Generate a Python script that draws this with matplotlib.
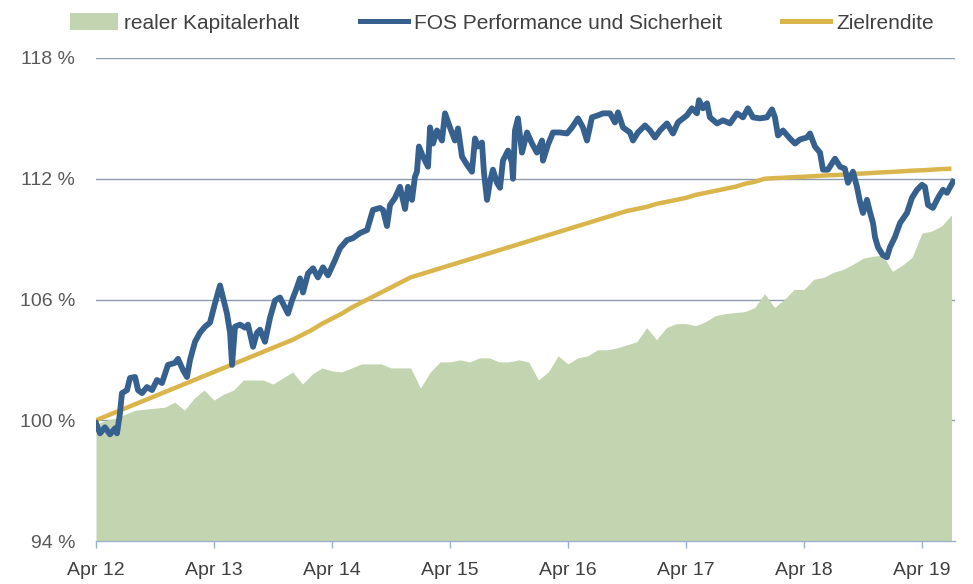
import numpy as np
import matplotlib
matplotlib.use("Agg")
import matplotlib.pyplot as plt
from matplotlib.lines import Line2D
from matplotlib.patches import Patch

# ---------------- data ----------------
start_year = 2012.25  # April 2012
# realer Kapitalerhalt (monthly, Apr 2012 .. Jul 2019)
kapitalerhalt = [
    99.8, 100.0, 100.1, 100.3, 100.5, 100.55, 100.6, 100.65, 100.9, 100.5,
    101.1, 101.5, 101.0, 101.3, 101.5, 102.0, 102.0, 102.0, 101.8, 102.1,
    102.4, 101.8, 102.3, 102.6, 102.45, 102.4, 102.6, 102.8, 102.8, 102.8,
    102.6, 102.6, 102.6, 101.6, 102.4, 102.9, 102.9, 103.0, 102.9, 103.1,
    103.1, 102.9, 102.9, 103.0, 102.9, 102.0, 102.4, 103.2, 102.8, 103.1,
    103.2, 103.5, 103.5, 103.6, 103.75, 103.9, 104.6, 104.0, 104.6, 104.8,
    104.8, 104.7, 104.9, 105.2, 105.3, 105.35, 105.4, 105.6, 106.3, 105.6,
    106.0, 106.5, 106.5, 107.0, 107.1, 107.35, 107.5, 107.75, 108.05, 108.15,
    108.2, 107.4, 107.7, 108.1, 109.3, 109.4, 109.65, 110.2,
]
# Zielrendite (monthly)
zielrendite = [
    100.0, 100.2, 100.4, 100.6, 100.8, 101.0, 101.2, 101.4, 101.6, 101.8,
    102.0, 102.2, 102.4, 102.6, 102.8, 103.0, 103.2, 103.4, 103.6, 103.8,
    104.0, 104.25, 104.5, 104.8, 105.05, 105.3, 105.6, 105.85, 106.1, 106.35,
    106.6, 106.85, 107.1, 107.25, 107.4, 107.55, 107.7, 107.85, 108.0, 108.15,
    108.3, 108.45, 108.6, 108.75, 108.9, 109.05, 109.2, 109.35, 109.5, 109.65,
    109.8, 109.95, 110.1, 110.25, 110.4, 110.5, 110.6, 110.75, 110.85, 110.95,
    111.05, 111.2, 111.3, 111.4, 111.5, 111.6, 111.75, 111.85, 112.0, 112.03,
    112.05, 112.08, 112.1, 112.13, 112.16, 112.18, 112.2, 112.24, 112.26, 112.29,
    112.32, 112.34, 112.37, 112.4, 112.42, 112.45, 112.48, 112.5,
]
# FOS Performance und Sicherheit (decimal year, value in %)
fos_x = [
    2012.250, 2012.284, 2012.326, 2012.369, 2012.411, 2012.428, 2012.453, 2012.470,
    2012.513, 2012.538, 2012.581, 2012.606, 2012.640, 2012.682, 2012.725, 2012.767,
    2012.809, 2012.860, 2012.919, 2012.945, 2012.987, 2013.021, 2013.047, 2013.089,
    2013.131, 2013.174, 2013.216, 2013.258, 2013.301, 2013.326, 2013.360, 2013.386,
    2013.403, 2013.428, 2013.470, 2013.513, 2013.538, 2013.581, 2013.614, 2013.640,
    2013.682, 2013.725, 2013.767, 2013.809, 2013.835, 2013.877, 2013.911, 2013.953,
    2013.979, 2014.004, 2014.047, 2014.089, 2014.131, 2014.174, 2014.216, 2014.275,
    2014.318, 2014.377, 2014.428, 2014.487, 2014.547, 2014.597, 2014.657, 2014.682,
    2014.716, 2014.742, 2014.784, 2014.826, 2014.869, 2014.894, 2014.928, 2014.953,
    2014.970, 2014.987, 2015.021, 2015.064, 2015.081, 2015.106, 2015.140, 2015.182,
    2015.208, 2015.250, 2015.292, 2015.318, 2015.352, 2015.394, 2015.436, 2015.462,
    2015.487, 2015.521, 2015.538, 2015.564, 2015.589, 2015.614, 2015.648, 2015.674,
    2015.699, 2015.742, 2015.775, 2015.784, 2015.801, 2015.826, 2015.860, 2015.903,
    2015.945, 2015.987, 2016.030, 2016.038, 2016.081, 2016.123, 2016.182, 2016.242,
    2016.284, 2016.335, 2016.377, 2016.411, 2016.453, 2016.504, 2016.547, 2016.606,
    2016.648, 2016.674, 2016.716, 2016.775, 2016.801, 2016.843, 2016.903, 2016.945,
    2016.987, 2017.030, 2017.089, 2017.140, 2017.182, 2017.258, 2017.301, 2017.343,
    2017.360, 2017.394, 2017.428, 2017.453, 2017.513, 2017.564, 2017.623, 2017.682,
    2017.733, 2017.775, 2017.818, 2017.877, 2017.936, 2017.979, 2018.004, 2018.030,
    2018.072, 2018.131, 2018.174, 2018.216, 2018.275, 2018.301, 2018.343, 2018.386,
    2018.411, 2018.453, 2018.513, 2018.555, 2018.597, 2018.623, 2018.665, 2018.699,
    2018.725, 2018.750, 2018.784, 2018.809, 2018.835, 2018.852, 2018.877, 2018.919,
    2018.953, 2018.979, 2019.021, 2019.064, 2019.123, 2019.165, 2019.208, 2019.250,
    2019.275, 2019.301, 2019.343, 2019.386, 2019.428, 2019.462, 2019.513,
]
fos_y = [
    99.85, 99.35, 99.65, 99.3, 99.6, 99.35, 100.35, 101.35,
    101.5, 102.1, 102.15, 101.5, 101.35, 101.65, 101.5, 102.0,
    101.85, 102.75, 102.85, 103.05, 102.5, 102.15, 103.0, 103.9,
    104.35, 104.65, 104.85, 105.8, 106.7, 106.1, 105.3, 104.35,
    102.75, 104.65, 104.75, 104.6, 104.75, 103.65, 104.35, 104.5,
    103.9, 105.1, 105.95, 106.1, 105.8, 105.3, 105.95, 106.6,
    107.05, 106.35, 107.3, 107.55, 107.1, 107.6, 107.2, 107.95,
    108.55, 108.95, 109.05, 109.3, 109.45, 110.45, 110.55, 110.45,
    109.65, 110.7, 111.05, 111.6, 110.5, 111.6, 110.95, 112.1,
    112.35, 113.6, 113.1, 112.6, 114.55, 113.75, 114.4, 113.9,
    115.25, 114.55, 113.9, 114.5, 113.1, 112.7, 112.35, 114.0,
    113.6, 113.8, 112.3, 110.95, 111.85, 112.45, 111.8, 111.55,
    112.9, 113.4, 112.8, 112.0, 114.4, 115.0, 113.3, 114.3,
    113.75, 113.3, 113.9, 112.9, 113.7, 114.3, 114.3, 114.25,
    114.55, 115.0, 114.55, 113.9, 115.05, 115.15, 115.25, 115.25,
    114.8, 115.3, 114.55, 114.3, 113.9, 114.3, 114.65, 114.4,
    114.05, 114.4, 114.75, 114.25, 114.8, 115.15, 115.5, 115.25,
    115.9, 115.5, 115.75, 115.05, 114.75, 114.9, 114.75, 115.25,
    115.05, 115.5, 115.05, 115.0, 115.05, 115.45, 115.05, 114.15,
    114.4, 114.0, 113.75, 113.95, 114.05, 114.25, 113.6, 113.3,
    112.45, 112.45, 113.0, 112.6, 112.5, 111.8, 112.35, 111.6,
    110.85, 110.3, 110.95, 110.35, 109.8, 109.1, 108.6, 108.2,
    108.1, 108.6, 109.1, 109.8, 110.3, 111.05, 111.45, 111.7,
    111.6, 110.7, 110.55, 111.05, 111.45, 111.3, 111.85,
]
x_tick_labels = ["Apr 12", "Apr 13", "Apr 14", "Apr 15", "Apr 16", "Apr 17", "Apr 18", "Apr 19"]
y_ticks = [94, 100, 106, 112, 118]
legend_labels = ["realer Kapitalerhalt", "FOS Performance und Sicherheit", "Zielrendite"]

# ---------------- style ----------------
C_GREEN = "#C3D4B0"
C_BLUE = "#36618F"
C_GOLD = "#D9B54C"
C_GRID = "#8C9BAE"
C_TEXT = "#404040"
FONT = ["Liberation Sans", "DejaVu Sans"]
plt.rcParams["font.family"] = FONT

fig = plt.figure(figsize=(9.73, 5.84), dpi=100)
ax = fig.add_axes([96 / 973, 1 - 541 / 584, (955 - 96) / 973, (541 - 58) / 584])

month_x = start_year + np.arange(len(kapitalerhalt)) / 12.0

ax.fill_between(month_x, 94, kapitalerhalt, color=C_GREEN, lw=0, zorder=1)
ax.plot(month_x, zielrendite, color=C_GOLD, lw=3.2, zorder=2, solid_capstyle="butt")
ax.plot(fos_x, fos_y, color=C_BLUE, lw=4.2, zorder=3, solid_joinstyle="round")

ax.set_xlim(start_year, 2019.53)
ax.set_ylim(94, 118)

for yv in y_ticks[1:]:
    ax.axhline(yv, color=C_GRID, lw=1.0, zorder=0)

ax.set_yticks(y_ticks)
ax.set_yticklabels([f"{v} %" for v in y_ticks])
ax.set_xticks(start_year + np.arange(len(x_tick_labels)))
ax.set_xticklabels(x_tick_labels)
ax.tick_params(axis="y", length=0, pad=15, labelsize=14, labelcolor="#595959")
ax.tick_params(axis="x", length=5, width=1, color="#9DB0CC", pad=10, labelsize=14, labelcolor=C_TEXT)

for s in ["top", "right", "left"]:
    ax.spines[s].set_visible(False)
ax.spines["bottom"].set_color("#9DB0CC")
ax.spines["bottom"].set_linewidth(1.0)

handles = [
    Patch(facecolor=C_GREEN, edgecolor="none"),
    Line2D([0], [0], color=C_BLUE, lw=3.6),
    Line2D([0], [0], color=C_GOLD, lw=3.6),
]
fig.legend(handles, legend_labels, loc="upper center", bbox_to_anchor=(0.516, 1.01),
           ncol=3, frameon=False, fontsize=15, handlelength=2.3, handleheight=0.9,
           handletextpad=0.3, columnspacing=2.9, labelcolor=C_TEXT)

fig.savefig("out.png", dpi=100)
